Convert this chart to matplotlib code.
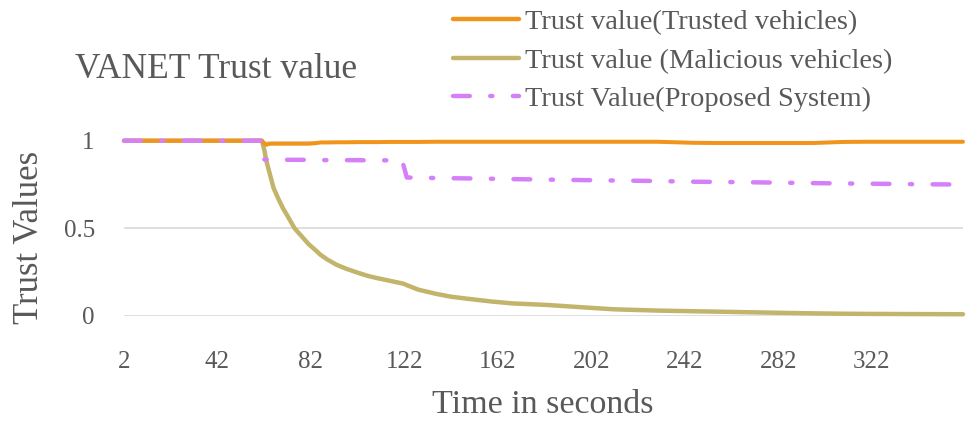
import matplotlib
matplotlib.use("Agg")
import matplotlib.pyplot as plt
from matplotlib.lines import Line2D

# ---- data ----
time_s = [2, 61, 62, 63, 64, 66, 68, 70, 72, 75, 78, 81, 84, 86, 89, 93, 97, 102, 106,
          110, 116, 121, 122, 123, 128, 136, 142, 148, 159, 168, 183, 200, 212, 230,
          246, 255, 275, 297, 310, 320, 340, 361]
trusted = [1, 1, 0.985, 0.977, 0.982, 0.983, 0.983, 0.983, 0.983, 0.983, 0.983, 0.983,
           0.986, 0.99, 0.99, 0.991, 0.991, 0.992, 0.992, 0.992, 0.993, 0.993, 0.993,
           0.993, 0.993, 0.994, 0.994, 0.994, 0.994, 0.994, 0.994, 0.994, 0.994, 0.994,
           0.988, 0.987, 0.987, 0.987, 0.993, 0.994, 0.994, 0.994]
malicious = [1, 1, 0.95, 0.88, 0.83, 0.73, 0.67, 0.615, 0.57, 0.50, 0.455, 0.41, 0.375,
             0.35, 0.322, 0.292, 0.27, 0.247, 0.23, 0.217, 0.20, 0.186, 0.182, 0.176,
             0.15, 0.125, 0.11, 0.10, 0.083, 0.072, 0.063, 0.048, 0.038, 0.031, 0.027,
             0.025, 0.02, 0.015, 0.013, 0.012, 0.011, 0.01]
proposed = [1, 1, 0.893, 0.893, 0.893, 0.892, 0.892, 0.892, 0.891, 0.891, 0.891, 0.89,
            0.89, 0.89, 0.889, 0.889, 0.889, 0.889, 0.888, 0.888, 0.888, 0.887, 0.84,
            0.79, 0.789, 0.787, 0.786, 0.785, 0.783, 0.781, 0.778, 0.775, 0.773, 0.77,
            0.766, 0.765, 0.762, 0.758, 0.756, 0.755, 0.752, 0.75]

x_ticks = [2, 42, 82, 122, 162, 202, 242, 282, 322]
y_ticks = [0, 0.5, 1]
y_tick_labels = ["0", "0.5", "1"]
series_labels = ["Trust value(Trusted vehicles)",
                 "Trust value (Malicious vehicles)",
                 "Trust Value(Proposed System)"]
title = "VANET Trust value"
xlabel = "Time in seconds"
ylabel = "Trust Values"

# ---- style ----
plt.rcParams['font.family'] = ['Liberation Serif', 'DejaVu Serif']
txt = '#595959'
c_trusted = '#F0941C'
c_mal = '#C2B46A'
c_prop = '#D580F8'
dash = (3.77, 4.6, 0.5, 4.6)

W, H = 971, 421
fig = plt.figure(figsize=(W / 100, H / 100), dpi=100)
ax = fig.add_axes([124 / W, (H - 316) / H, (963 - 124) / W, (316 - 140.7) / H])

lw = 3.2
ax.plot(time_s, malicious, color=c_mal, lw=lw, solid_capstyle='round',
        solid_joinstyle='round', clip_on=False, zorder=3)
ax.plot(time_s, trusted, color=c_trusted, lw=lw * 0.9, solid_capstyle='round',
        solid_joinstyle='round', clip_on=False, zorder=4)
lp, = ax.plot(time_s, proposed, color=c_prop, lw=lw, clip_on=False, zorder=5,
              dash_capstyle='round', dash_joinstyle='round')
lp.set_dashes(dash)

ax.set_xlim(2, 361)
ax.set_ylim(0, 1)
ax.set_xticks(x_ticks)
ax.set_xticklabels([str(v) for v in x_ticks])
ax.set_yticks(y_ticks)
ax.set_yticklabels(y_tick_labels)
ax.grid(axis='y', color='#D9D9D9', lw=1.2)
ax.grid(axis='x', visible=False)
ax.set_axisbelow(True)
for s in ax.spines.values():
    s.set_visible(False)
ax.tick_params(axis='both', length=0, colors=txt, labelsize=18)
ax.tick_params(axis='x', pad=25)
ax.tick_params(axis='y', pad=21)

fig.text(30 / W, 1 - 237 / H, ylabel, rotation=90, ha='center', va='center',
         fontsize=25, color=txt)
fig.text(543 / W, 1 - 413 / H, xlabel, ha='center', va='baseline', fontsize=24.5, color=txt)
fig.text(75 / W, 1 - 78.3 / H, title, ha='left', va='baseline', fontsize=25.5, color=txt)

# legend
handles = [Line2D([], [], color=c_trusted, lw=lw, solid_capstyle='round'),
           Line2D([], [], color=c_mal, lw=lw, solid_capstyle='round'),
           Line2D([], [], color=c_prop, lw=lw, dash_capstyle='round', dashes=dash)]
leg = fig.legend(handles, series_labels, loc='upper left',
                 bbox_to_anchor=(453 / W, 1 - 9 / H),
                 frameon=False, fontsize=20.5, handlelength=2.32, handletextpad=0.21,
                 labelspacing=0.45, borderaxespad=0, borderpad=0)
for t in leg.get_texts():
    t.set_color(txt)

fig.savefig('out.png', dpi=100)
